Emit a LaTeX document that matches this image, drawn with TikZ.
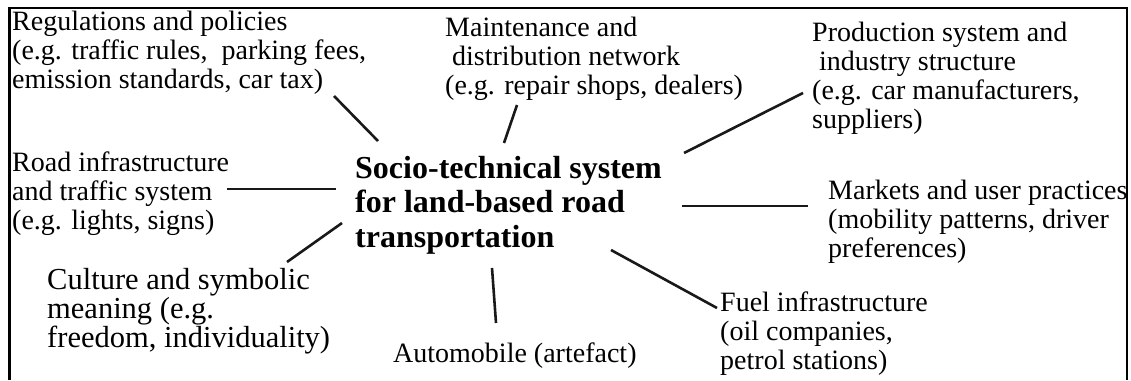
\documentclass[tikz,border=0pt]{standalone}
\usepackage{fontspec}
\setmainfont{Liberation Serif}
\newcommand\lblfont{\fontsize{28}{29}\selectfont}
\newcommand\cultfont{\fontsize{30.5}{29}\selectfont}
\newcommand\ttlfont{\fontsize{32}{34.5}\selectfont\bfseries}
\tikzset{
  lbl/.style={anchor=north west, inner sep=0pt, align=left, font=\lblfont, execute at begin node=\strut},
  ttl/.style={anchor=north west, inner sep=0pt, align=left, font=\ttlfont, execute at begin node=\strut},
  link/.style={line width=2.6pt, draw=black!90},
  frame/.style={line width=2.8pt}
}
\begin{document}
\begin{tikzpicture}[x=1pt,y=-1pt]
\useasboundingbox (0,0) rectangle (1131,380);
\draw[frame] (9.5,380) -- (9.5,8) -- (1127,8) -- (1127,380);

\node[ttl] (core) at (355,180-24.15) {Socio-technical system\\for land-based road\\transportation};

\node[lbl] (reg) at (12,31-20.3) {Regulations and policies\\(e.g. traffic rules, \ parking fees,\\emission standards, car tax)};
\node[lbl] (maint) at (445,37-20.3) {Maintenance and\\\ distribution network\\(e.g. repair shops, dealers)};
\node[lbl] (prod) at (812,42-20.3) {Production system and\\\ industry structure\\(e.g. car manufacturers,\\suppliers)};
\node[lbl] (road) at (12,172-20.3) {Road infrastructure\\and traffic system\\(e.g. lights, signs)};
\node[lbl] (mark) at (828,200-20.3) {Markets and user practices\\(mobility patterns, driver\\preferences)};
\node[lbl, font=\cultfont] (cult) at (47,288-20.3) {Culture and symbolic\\meaning (e.g.\\freedom, individuality)};
\node[lbl] (fuel) at (720,312-20.3) {Fuel infrastructure\\(oil companies,\\petrol stations)};
\node[lbl] (auto) at (393,362-20.3) {Automobile (artefact)};

\coordinate (reg-a) at (334,96);   \coordinate (reg-b) at (378,141);
\coordinate (maint-a) at (517,105); \coordinate (maint-b) at (504,143);
\coordinate (prod-a) at (803,93);  \coordinate (prod-b) at (684,153);
\coordinate (mark-a) at (808,206); \coordinate (mark-b) at (682,206);
\coordinate (fuel-a) at (717,308); \coordinate (fuel-b) at (611,250);
\coordinate (auto-a) at (496,323); \coordinate (auto-b) at (492,268);
\coordinate (cult-a) at (287,262); \coordinate (cult-b) at (342,223);
\coordinate (road-a) at (227,189); \coordinate (road-b) at (336,189);

\foreach \n in {reg,maint,prod,mark,fuel,auto,cult,road}
  \draw[link] (\n-a) -- (\n-b);
\end{tikzpicture}
\end{document}
